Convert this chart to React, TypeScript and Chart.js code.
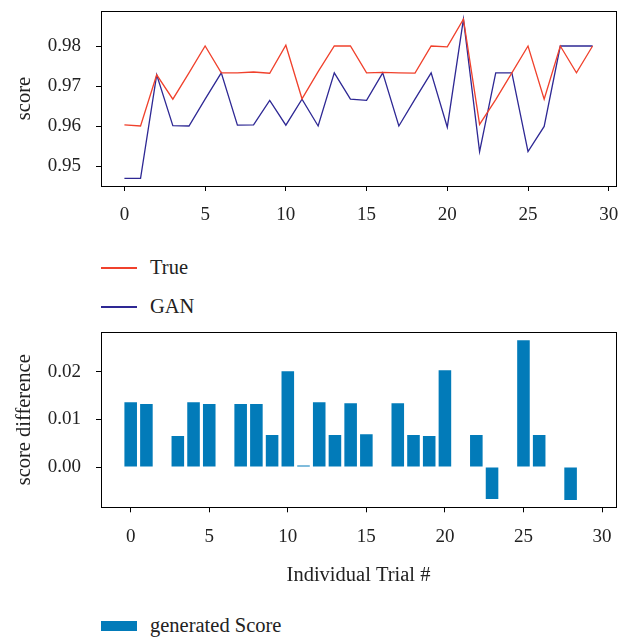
import React, { useEffect, useRef } from 'react';
import { Chart, registerables } from 'chart.js';

Chart.register(...registerables);

const trials = [0, 1, 2, 3, 4, 5, 6, 7, 8, 9, 10, 11, 12, 13, 14, 15, 16, 17, 18, 19, 20, 21, 22, 23, 24, 25, 26, 27, 28, 29];
const trueScores = [0.9603, 0.96, 0.9728, 0.9667, 0.9733, 0.98, 0.9733, 0.9733, 0.9735, 0.9732, 0.9802, 0.9668, 0.9736, 0.98, 0.98, 0.9733, 0.9734, 0.9733, 0.9732, 0.98, 0.9798, 0.9867, 0.9604, 0.9666, 0.9733, 0.98, 0.9667, 0.98, 0.9733, 0.98];
const ganScores = [0.9469, 0.9469, 0.9728, 0.9601, 0.96, 0.9667, 0.9733, 0.9602, 0.9603, 0.9664, 0.9602, 0.9667, 0.96, 0.9733, 0.9667, 0.9664, 0.9733, 0.96, 0.9667, 0.9733, 0.9597, 0.9867, 0.9536, 0.9733, 0.9733, 0.9536, 0.9599, 0.98, 0.98, 0.98];
const scoreDiff = [0.0136, 0.0132, 0, 0.0065, 0.0136, 0.0132, 0, 0.0132, 0.0132, 0.0067, 0.0201, 0.0003, 0.0136, 0.0067, 0.0134, 0.0069, 0, 0.0134, 0.0067, 0.0065, 0.0203, 0, 0.0067, -0.0067, 0, 0.0266, 0.0067, 0, -0.0069, 0];
const topYTicks = [0.95, 0.96, 0.97, 0.98];
const bottomYTicks = [0.0, 0.01, 0.02];
const xTicks = [0, 5, 10, 15, 20, 25, 30];
const lineLabels = ['True', 'GAN'];
const barLabel = 'generated Score';

const RED = '#f0412c';
const BLUE = '#2e2894';
const BAR = '#027bb9';
const FONT = "'Liberation Serif', 'DejaVu Serif', serif";
const TEXT = '#222222';

const boxPlugin = {
  id: 'boxPlugin',
  afterDraw(chart: any) {
    const { ctx, chartArea } = chart;
    ctx.save();
    ctx.strokeStyle = '#000';
    ctx.lineWidth = 1;
    ctx.strokeRect(Math.round(chartArea.left) + 0.5, Math.round(chartArea.top) + 0.5, Math.round(chartArea.right - chartArea.left), Math.round(chartArea.bottom - chartArea.top));
    ctx.restore();
  },
};

const tickFont = { family: FONT, size: 19 };
const titleFont = { family: FONT, size: 20.5 };

function zeroPad(s: any) {
  s.paddingTop = 0;
  s.paddingBottom = 0;
  s.paddingLeft = 0;
  s.paddingRight = 0;
}

function xScale(min: number, max: number, height: number, withTitle: boolean) {
  return {
    type: 'linear' as const,
    min,
    max,
    offset: false,
    afterBuildTicks: (s: any) => {
      s.ticks = xTicks.map((v) => ({ value: v }));
    },
    ticks: { font: tickFont, color: TEXT, padding: 13, maxRotation: 0, autoSkip: false, callback: (v: any) => String(v) },
    grid: { drawOnChartArea: false, tickLength: 5, color: '#000', tickColor: '#000', offset: false },
    border: { color: '#000', width: 1 },
    title: withTitle
      ? { display: true, text: 'Individual Trial #', font: titleFont, color: TEXT, padding: { top: 0, bottom: 12 } }
      : { display: false },
    afterFit: (s: any) => {
      s.height = height;
      zeroPad(s);
    },
  };
}

function yScale(min: number, max: number, ticks: number[], title: string) {
  return {
    min,
    max,
    afterBuildTicks: (s: any) => {
      s.ticks = ticks.map((v) => ({ value: v }));
    },
    ticks: { font: tickFont, color: TEXT, padding: 15, callback: (v: any) => Number(v).toFixed(2) },
    grid: { drawOnChartArea: false, tickLength: 5, color: '#000', tickColor: '#000' },
    border: { color: '#000', width: 1 },
    title: { display: true, text: title, font: titleFont, color: TEXT, padding: { top: 12, bottom: 0 } },
    afterFit: (s: any) => {
      s.width = 101;
      zeroPad(s);
    },
  };
}

export default function App() {
  const topRef = useRef<HTMLCanvasElement | null>(null);
  const botRef = useRef<HTMLCanvasElement | null>(null);

  useEffect(() => {
    const top = new Chart(topRef.current as HTMLCanvasElement, {
      type: 'line',
      data: {
        datasets: [
          {
            label: lineLabels[0],
            data: trials.map((t, i) => ({ x: t, y: trueScores[i] })),
            borderColor: RED,
            borderWidth: 1.3,
            pointRadius: 0,
            tension: 0,
            fill: false,
          },
          {
            label: lineLabels[1],
            data: trials.map((t, i) => ({ x: t, y: ganScores[i] })),
            borderColor: BLUE,
            borderWidth: 1.3,
            pointRadius: 0,
            tension: 0,
            fill: false,
          },
        ],
      },
      options: {
        animation: false,
        responsive: false,
        layout: { padding: { left: 0, right: 14, top: 11, bottom: 0 } },
        plugins: { legend: { display: false }, tooltip: { enabled: false } },
        scales: {
          x: xScale(-1.45, 30.45, 50, false) as any,
          y: yScale(0.945, 0.98875, topYTicks, 'score') as any,
        },
      },
      plugins: [boxPlugin],
    });

    const bot = new Chart(botRef.current as HTMLCanvasElement, {
      type: 'bar',
      data: {
        datasets: [
          {
            label: barLabel,
            data: trials.map((t, i) => ({ x: t, y: scoreDiff[i] })),
            backgroundColor: BAR,
            borderWidth: 0,
            barPercentage: 0.8,
            categoryPercentage: 1.0,
          },
        ],
      },
      options: {
        animation: false,
        responsive: false,
        layout: { padding: { left: 0, right: 14, top: 12.3, bottom: 0 } },
        plugins: { legend: { display: false }, tooltip: { enabled: false } },
        scales: {
          x: xScale(-1.89, 30.89, 92.7, true) as any,
          y: yScale(-0.00845, 0.02826, bottomYTicks, 'score difference') as any,
        },
      },
      plugins: [boxPlugin],
    });

    return () => {
      top.destroy();
      bot.destroy();
    };
  }, []);

  const legendText: React.CSSProperties = {
    position: 'absolute',
    left: 150,
    fontFamily: FONT,
    fontSize: 20.5,
    color: TEXT,
    lineHeight: '22px',
    whiteSpace: 'nowrap',
  };

  return (
    <div style={{ position: 'absolute', left: 0, top: 0, width: 630, height: 637, background: '#fff', overflow: 'hidden' }}>
      <canvas ref={topRef} width={630} height={236} style={{ position: 'absolute', left: 0, top: 0 }} />
      <canvas ref={botRef} width={630} height={280} style={{ position: 'absolute', left: 0, top: 320 }} />
      <div style={{ position: 'absolute', left: 101, top: 267, width: 36, height: 1.5, background: RED }} />
      <div style={{ ...legendText, top: 256 }}>{lineLabels[0]}</div>
      <div style={{ position: 'absolute', left: 101, top: 306, width: 36, height: 1.5, background: BLUE }} />
      <div style={{ ...legendText, top: 295 }}>{lineLabels[1]}</div>
      <div style={{ position: 'absolute', left: 101, top: 621, width: 36, height: 10, background: BAR }} />
      <div style={{ ...legendText, top: 614 }}>{barLabel}</div>
    </div>
  );
}
